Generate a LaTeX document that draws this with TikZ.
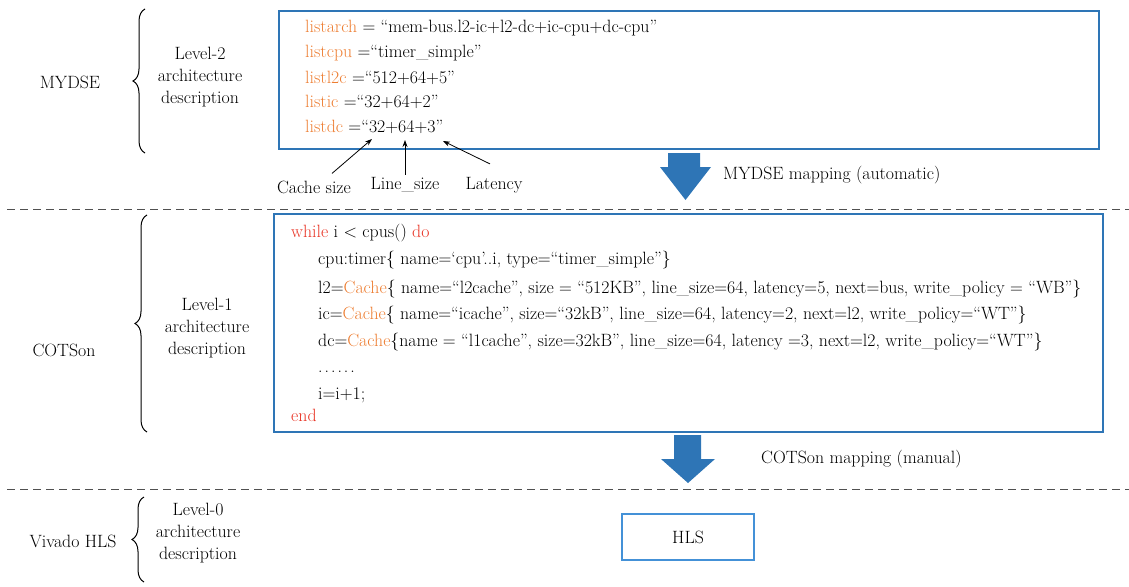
\documentclass[tikz,border=0pt]{standalone}
\usepackage{fontspec}
\usepackage{tikz}
\usetikzlibrary{arrows.meta,decorations.pathreplacing}
\definecolor{boxblue}{RGB}{46,117,182}
\definecolor{hlsblue}{RGB}{68,145,215}
\definecolor{keyorange}{RGB}{237,125,49}
\definecolor{keyred}{RGB}{232,50,35}
\definecolor{dashgray}{RGB}{80,80,80}
\newcommand{\kw}[1]{\textcolor{keyred}{#1}}
\newcommand{\vr}[1]{\textcolor{keyorange}{#1}}
\newcommand{\codeline}[4]{\node[anchor=base west] (#1) at (#2,#3) {#4};}
\newcommand{\levelbrace}[3]{\draw[line width=1pt,decorate,decoration={brace,amplitude=12pt}] (#1,#3)--(#1,#2);}
\tikzset{
  every node/.style={font=\fontsize{17.8}{22}\selectfont, inner sep=3pt},
  codebox/.style={draw=boxblue, line width=1.2pt},
  sepline/.style={draw=dashgray, line width=1pt, dash pattern=on 8pt off 5pt},
  annot/.style={-{Stealth[length=7pt,width=5pt]}, line width=0.8pt}
}

\begin{document}
\begin{tikzpicture}[x=1pt,y=-1pt]
\useasboundingbox (0,0) rectangle (1129,586);
\draw[sepline] (7,209)--(1129,209);
\draw[sepline] (7,489)--(1129,489);
\node[codebox, minimum width=820pt, minimum height=138pt] (lvtwobox) at (689,80) {};
\node[codebox, minimum width=829pt, minimum height=218pt] (lvonebox) at (688.5,323) {};
\node[draw=hlsblue, line width=1.2pt, minimum width=132pt, minimum height=46pt] (hls) at (688,537) {HLS};
\codeline{la}{302}{33}{\vr{listarch} = “mem-bus.l2-ic+l2-dc+ic-cpu+dc-cpu”}
\codeline{lc}{302}{58}{\vr{listcpu} =“timer\_simple”}
\codeline{ll}{302}{83}{\vr{listl2c} =“512+64+5”}
\codeline{li}{302}{107}{\vr{listic} =“32+64+2”}
\codeline{ld}{302}{132}{\vr{listdc} =“32+64+3”}
\codeline{wh}{288}{237}{\kw{while} i < cpus() \kw{do}}
\codeline{ct}{315}{264}{cpu:timer\{ name=‘cpu’..i, type=“timer\_simple”\}}
\codeline{lt}{315}{293}{l2=\vr{Cache}\{ name=“l2cache”, size = “512KB”, line\_size=64, latency=5, next=bus, write\_policy = “WB”\}}
\codeline{ic}{315}{319}{ic=\vr{Cache}\{ name=“icache”, size=“32kB”, line\_size=64, latency=2, next=l2, write\_policy=“WT”\}}
\codeline{dc}{315}{346}{dc=\vr{Cache}\{name = “l1cache”, size=32kB”, line\_size=64, latency =3, next=l2, write\_policy=“WT”\}}
\codeline{dt}{315}{372}{.\kern2pt.\kern2pt.\kern2pt.\kern2pt.\kern2pt.}
\codeline{ii}{315}{399}{i=i+1;}
\codeline{en}{288}{421}{\kw{end}}
\coordinate (csz) at (372,139);
\coordinate (lsz) at (405,140);
\coordinate (lat) at (443,141);
\node (cachesize) at (314,187) {Cache size};
\node (linesize) at (405,185) {Line\_size};
\node (latency) at (494,185) {Latency};
\draw[annot] ([xshift=18pt,yshift=4pt]cachesize.north)--(csz);
\draw[annot] (linesize.north)--(lsz);
\draw[annot] ([xshift=-4pt,yshift=10pt]latency.north)--(lat);
\fill[boxblue] (668,153)--(700,153)--(700,167)--(711,167)--(685.5,200)--(660,167)--(668,167)--cycle;
\fill[boxblue] (674,435)--(701,435)--(701,459)--(715,459)--(688,483)--(661,459)--(674,459)--cycle;
\node[anchor=base west] (autolbl) at (720,179) {MYDSE mapping (automatic)};
\node[anchor=base west] (manlbl) at (758,463) {COTSon mapping (manual)};
\node (mydse) at (70,82) {MYDSE};
\node (cotson) at (64,350) {COTSon};
\node (vivado) at (73,541) {Vivado HLS};
\node[align=center] (lvtwo) at (200,77) {Level-2\\architecture\\description};
\node[align=center] (lvone) at (207,328) {Level-1\\architecture\\description};
\node[align=center] (lvzero) at (198,533) {Level-0\\architecture\\description};
\levelbrace{145}{9}{153}
\levelbrace{147}{215}{432}
\levelbrace{144}{497}{582}
\end{tikzpicture}
\end{document}
